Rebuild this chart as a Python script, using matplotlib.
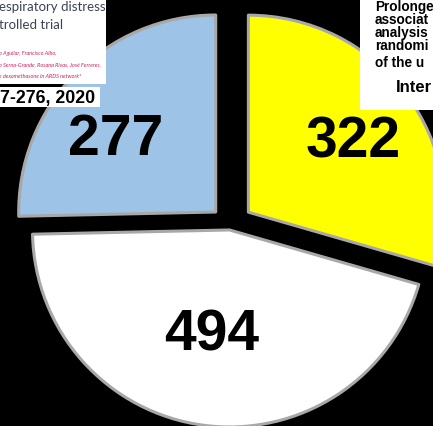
import matplotlib
matplotlib.use('Agg')
import matplotlib.pyplot as plt
from matplotlib.patches import Rectangle
import numpy as np

# slice values, counterclockwise starting at 12 o'clock
values = [277, 494, 322]
colors = ['#9dc3e6', '#ffffff', '#ffff00']

# snippets of the paper screenshots pasted over the chart
left_title = ['espiratory distress', 'trolled trial']
left_authors = ['o Aguilar, Francisco Albo,',
                'o Serna-Grande, Rosana Rivas, José Ferreres,',
                'e dexamethasone in ARDS network*']
left_ref = '7-276, 2020'
right_lines = ['Prolonge', 'associat', 'analysis', 'randomi', 'of the u']
right_last = 'Inter'

W, H = 433, 427

fig = plt.figure(figsize=(W / 100, H / 100), dpi=100, facecolor='black')
ax = fig.add_axes([0, 0, 1, 1])
ax.set_facecolor('black')

# pie, in pixel-like data units
explode = [20, 4, 23]
wedges, texts, autotexts = ax.pie(
    values, colors=colors, explode=explode, startangle=90, counterclock=True,
    radius=197, center=(230, H - 227),
    autopct=lambda p: '%d' % round(p * sum(values) / 100),
    wedgeprops=dict(edgecolor='#a9a7a7', linewidth=2.2, joinstyle='round'),
    textprops=dict(fontsize=41, fontweight='bold', family='Liberation Sans', color='black'),
    frame=True)

# label placement per slice (distance as fraction of radius, angle tweak)
label_dist = [0.63, 0.54, 0.64]
label_rot = [8.5, -2, -3]
for w, t, d, r in zip(wedges, autotexts, label_dist, label_rot):
    a = np.deg2rad((w.theta1 + w.theta2) / 2 + r)
    cx, cy = w.center
    t.set_position((cx + d * w.r * np.cos(a), cy + d * w.r * np.sin(a)))
    t.set_ha('center')
    t.set_va('center')

ax.set_xlim(0, W)
ax.set_ylim(0, H)
ax.set_aspect('auto')
ax.axis('off')

# top-left paper snippet
box = Rectangle((0, H - 85), 106, 85, facecolor='white', zorder=5)
ax.add_patch(box)
ax.add_patch(Rectangle((0, H - 108), 100, 20, facecolor='white', zorder=5))
for txt, y in zip(left_title, [7, 25]):
    ax.text(-1, H - y, txt, fontsize=9.5, family='Lato', color='#3a4356',
            ha='left', va='center', zorder=6, clip_path=box)
for txt, y in zip(left_authors, [53, 65, 76]):
    ax.text(-1, H - y, txt, fontsize=4, family='Lato', style='italic',
            color='#d0215f', ha='left', va='center', zorder=6, clip_path=box)
ax.text(0, H - 98, left_ref, fontsize=12.8, fontweight='bold',
        family='Liberation Sans', color='black', ha='left', va='center', zorder=6)

# top-right paper snippet
ax.add_patch(Rectangle((360, H - 111), 80, 111, facecolor='white', zorder=5))
for txt, y in zip(right_lines, [7, 20, 33, 46, 63]):
    ax.text(375, H - y, txt, fontsize=9.8, fontweight='bold',
            family='Liberation Sans', color='black', ha='left', va='center', zorder=6)
ax.text(396, H - 87, right_last, fontsize=12, fontweight='bold',
        family='Liberation Sans', color='black', ha='left', va='center', zorder=6)

fig.savefig('out.png', dpi=100, facecolor='black')
